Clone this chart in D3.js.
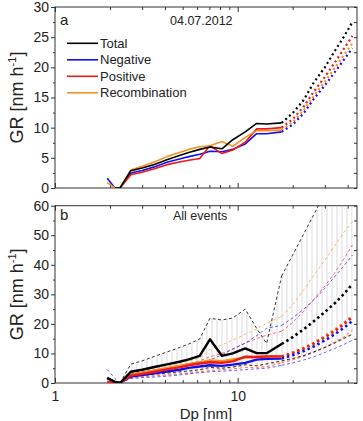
<!DOCTYPE html>
<html>
<head>
<meta charset="utf-8">
<script src="https://cdn.jsdelivr.net/npm/d3@7"></script>
<style>
  body { margin: 0; background: #fff; }
  text { font-family: "Liberation Sans", Arial, sans-serif; fill: #222; }
  .axis path { display: none; }
  .axis line { stroke: #333; }
</style>
</head>
<body>
<div id="chart"></div>
<script>
// particle diameter grid (nm) for measured part and the extrapolated part
var dp = [1.93, 2.13, 2.27, 2.6, 3.0, 3.5, 4.1, 4.8, 5.4, 6.2, 7.05, 8.2, 9.4, 11, 12.7, 14.4, 17.4];
var dpExt = [17.4, 20, 23, 26, 30, 34, 38, 42.5];

// panel a: 04.07.2012
var totalA = [null, 0, 0, 2.87, 3.3, 3.9, 4.7, 5.4, 5.9, 6.4, 6.8, 6.5, 8.0, 9.3, 10.7, 10.6, 10.8];
var negA   = [1.6, 0, 0, 2.5, 2.9, 3.5, 4.26, 4.8, 5.2, 5.6, 6.1, 6.0, 6.4, 7.3, 9.0, 9.0, 9.3];
var posA   = [null, 0, 0, 2.2, 2.6, 3.2, 3.87, 4.3, 4.6, 4.9, 7.0, 5.7, 6.3, 7.6, 9.8, 9.8, 10.0];
var recA   = [0.9, 0, 0, 3.0, 3.6, 4.3, 5.2, 5.9, 6.4, 6.85, 7.0, 7.7, 6.9, 8.4, 9.5, 9.5, 9.6];
var totalExtA = [10.8, 12.4, 14.6, 17.4, 20.0, 22.7, 25.0, 27.5];
var negExtA   = [9.3, 10.5, 12.4, 14.7, 17.0, 19.2, 21.2, 23.2];
var posExtA   = [10.0, 11.4, 13.5, 15.9, 18.4, 20.8, 23.0, 25.2];
var recExtA   = [9.6, 10.9, 12.9, 15.2, 17.6, 19.9, 22.0, 24.0];

// panel b: all events, median
var totalB = [1.6, 0.4, 0, 3.8, 4.5, 5.4, 6.3, 7.2, 8.0, 9.2, 14.8, 9.2, 10.0, 11.7, 10.1, 10.1, 13.2];
var negB   = [1.8, 0.3, 0, 2.2, 2.7, 3.3, 3.9, 4.5, 5.1, 5.6, 6.0, 5.8, 6.2, 6.8, 7.9, 8.2, 8.3];
var posB   = [0.3, 0, 0, 2.5, 3.1, 3.8, 4.6, 5.3, 6.0, 6.6, 7.0, 6.8, 7.3, 8.9, 8.8, 9.0, 9.0];
var recB   = [0.5, 0, 0, 2.8, 3.4, 4.2, 5.0, 5.8, 6.4, 7.0, 7.6, 7.4, 8.0, 8.6, 8.8, 8.9, 8.9];
var totalExtB = [13.2, 15.5, 18.2, 20.8, 24.0, 27.0, 30.0, 33.5];
var negExtB   = [8.3, 9.4, 10.8, 12.3, 14.4, 16.5, 18.6, 21.0];
var posExtB   = [9.0, 10.2, 11.7, 13.3, 15.5, 17.6, 19.8, 22.3];
var recExtB   = [8.9, 10.2, 11.8, 13.5, 15.8, 18.0, 20.2, 22.7];

// panel b: upper / lower percentiles
var totalHi = [null, null, 0, 6.4, 7.5, 9.0, 10.5, 12.0, 13.2, 14.9, 21.9, 21.3, 22.0, 25.0, 18.5, 13.4, 36.2];
var totalLo = [null, null, 0, 2.3, 2.6, 3.0, 3.4, 3.8, 4.1, 4.5, 5.3, 5.0, 5.4, 6.2, 5.8, 6.5, 7.5];
var totalHiExt = [36.2, 43.3, 50.5, 56.8, 64, 70, 76, 82];
var totalLoExt = [7.5, 8.3, 9.3, 10.5, 12.0, 13.5, 15.0, 16.5];
var negHi = [4.6, 1.5, 0, 3.0, 3.6, 4.2, 4.9, 5.6, 6.3, 7.0, 7.8, 9.5, 11.5, 13.5, 16.0, 18.5, 19.5];
var negLo = [null, null, 0, 1.5, 1.8, 2.0, 2.3, 2.7, 3.1, 3.5, 3.8, 4.0, 4.2, 4.5, 4.8, 5.0, 6.0];
var negHiExt = [19.5, 22.0, 25.0, 28.0, 32.0, 36.0, 39.5, 43.3];
var negLoExt = [6.0, 6.8, 7.8, 8.8, 10.3, 11.7, 13.0, 14.5];
var posHi = [0.5, 0, 0, 3.2, 3.8, 4.5, 5.2, 5.9, 6.6, 7.5, 8.9, 10.0, 11.5, 13.5, 15.0, 16.2, 17.5];
var posLo = [null, null, 0, 1.8, 2.1, 2.4, 2.7, 3.1, 3.4, 3.8, 4.2, 4.5, 4.8, 5.2, 5.3, 5.5, 6.8];
var posHiExt = [17.5, 20.5, 24.3, 28.2, 32.8, 37.3, 41.8, 46.7];
var posLoExt = [6.8, 7.8, 9.0, 10.3, 12.0, 13.8, 15.5, 17.9];
var recHi = [0.5, 0, 0, 3.5, 4.1, 4.9, 5.7, 6.6, 7.4, 8.5, 11.4, 12.9, 14.5, 16.5, 18.3, 20.2, 22.5];
var recLo = [null, null, 0, 2.0, 2.3, 2.7, 3.1, 3.5, 3.9, 4.3, 4.8, 5.1, 5.4, 5.8, 6.0, 6.2, 7.2];
var recHiExt = [22.5, 26.5, 31.5, 36.3, 41.5, 46.5, 50.8, 54.6];
var recLoExt = [7.2, 8.1, 9.3, 10.5, 12.2, 13.9, 15.3, 16.6];

var legendNames = ['Total', 'Negative', 'Positive', 'Recombination'];
var colors = ['#000000', '#1010ee', '#f01818', '#f7901e'];
var xMajor = [1, 10], xMinor = [2, 3, 4, 5, 6, 7, 8, 9, 20, 30, 40];

var w = 363, h = 421;
var svg = d3.select('#chart').append('svg').attr('width', w).attr('height', h);

var x = d3.scaleLog().domain([1, 45]).range([55, 357]);
var yA = d3.scaleLinear().domain([0, 30]).range([188, 7]);
var yB = d3.scaleLinear().domain([0, 60]).range([383, 205.7]);

// hatch for the total range
var defs = svg.append('defs');
var pat = defs.append('pattern').attr('id', 'hatch').attr('patternUnits', 'userSpaceOnUse')
  .attr('width', 5).attr('height', 10);
pat.append('line').attr('x1', 2).attr('x2', 2).attr('y1', 0).attr('y2', 10)
  .attr('stroke', '#cacad6').attr('stroke-width', 0.7);

function frame(y, yMajor, yMinor, id, showX) {
  var x0 = x.range()[0], x1 = x.range()[1], y0 = y.range()[1], y1 = y.range()[0];
  defs.append('clipPath').attr('id', id).append('rect')
    .attr('x', x0).attr('y', y0).attr('width', x1 - x0).attr('height', y1 - y0);

  svg.append('g').attr('class', 'axis').attr('transform', 'translate(' + x0 + ',0)')
    .call(d3.axisLeft(y).tickValues(yMajor).tickSize(4).tickPadding(2))
    .selectAll('text').style('font-size', '14px');
  svg.append('g').attr('class', 'axis').attr('transform', 'translate(' + x0 + ',0)')
    .call(d3.axisLeft(y).tickValues(yMinor).tickSize(2).tickFormat(''));
  svg.append('g').attr('class', 'axis').attr('transform', 'translate(' + x1 + ',0)')
    .call(d3.axisRight(y).tickValues(yMajor.concat(yMinor)).tickSize(-3).tickFormat(''));

  var bot = svg.append('g').attr('class', 'axis').attr('transform', 'translate(0,' + y1 + ')');
  bot.call(d3.axisBottom(x).tickValues(xMajor).tickSize(-5).tickPadding(8)
    .tickFormat(showX ? d3.format('d') : ''));
  bot.selectAll('text').style('font-size', '14px');
  svg.append('g').attr('class', 'axis').attr('transform', 'translate(0,' + y1 + ')')
    .call(d3.axisBottom(x).tickValues(xMinor).tickSize(-3).tickFormat(''));
  svg.append('g').attr('class', 'axis').attr('transform', 'translate(0,' + y0 + ')')
    .call(d3.axisTop(x).tickValues(xMajor).tickSize(-5).tickFormat(''));
  svg.append('g').attr('class', 'axis').attr('transform', 'translate(0,' + y0 + ')')
    .call(d3.axisTop(x).tickValues(xMinor).tickSize(-3).tickFormat(''));

  svg.append('rect').attr('x', x0).attr('y', y0).attr('width', x1 - x0).attr('height', y1 - y0)
    .attr('fill', 'none').attr('stroke', '#333').attr('stroke-width', 1);

  var lab = svg.append('text').attr('text-anchor', 'middle').style('font-size', '18px')
    .attr('transform', 'translate(23,' + ((y0 + y1) / 2) + ') rotate(-90)');
  lab.append('tspan').text('GR [nm h');
  lab.append('tspan').attr('dy', -7).style('font-size', '11px').text('-1');
  lab.append('tspan').attr('dy', 7).text(']');

  return svg.append('g').attr('clip-path', 'url(#' + id + ')');
}

function pts(xs, ys) {
  return xs.map(function(d, i) { return [d, ys[i]]; });
}

function draw(g, y, xs, ys, color, width, dash, opacity) {
  var line = d3.line()
    .defined(function(d) { return d[1] !== null; })
    .x(function(d) { return x(d[0]); })
    .y(function(d) { return y(d[1]); });
  g.append('path').datum(pts(xs, ys))
    .attr('d', line)
    .attr('fill', 'none')
    .attr('stroke', color)
    .attr('stroke-width', width)
    .attr('stroke-dasharray', dash || null)
    .attr('stroke-opacity', opacity || 1)
    .attr('stroke-linejoin', 'round');
}

// ----- panel a -----
var gA = frame(yA, [0, 5, 10, 15, 20, 25, 30], [2.5, 7.5, 12.5, 17.5, 22.5, 27.5], 'clipA', false);
var seriesA = [totalA, negA, posA, recA];
var extA = [totalExtA, negExtA, posExtA, recExtA];
[3, 2, 1, 0].forEach(function(i) {
  draw(gA, yA, dpExt, extA[i], colors[i], 2.2, '2,3');
});
[1, 2, 3, 0].forEach(function(i) {
  draw(gA, yA, dp, seriesA[i], colors[i], 1.6);
});

svg.append('text').attr('x', 60).attr('y', 25).style('font-size', '15px').text('a');
svg.append('text').attr('x', 170).attr('y', 25).style('font-size', '12.5px').text('04.07.2012');

var leg = svg.selectAll('.leg').data(legendNames).enter().append('g')
  .attr('transform', function(d, i) { return 'translate(67,' + (43.3 + i * 16.5) + ')'; });
leg.append('line').attr('x1', 0).attr('x2', 31).attr('y1', 0).attr('y2', 0)
  .attr('stroke', function(d, i) { return colors[i]; }).attr('stroke-width', 1.6);
leg.append('text').attr('x', 33).attr('dy', '0.35em').style('font-size', '13px')
  .text(function(d) { return d; });

// ----- panel b -----
var gB = frame(yB, [0, 10, 20, 30, 40, 50, 60], [5, 15, 25, 35, 45, 55], 'clipB', true);

var band = d3.area()
  .defined(function(d) { return d[1] !== null; })
  .x(function(d) { return x(d[0]); })
  .y0(function(d) { return yB(d[2]); })
  .y1(function(d) { return yB(d[1]); });
var bandData = dp.map(function(d, i) { return [d, totalHi[i], totalLo[i]]; })
  .concat(dpExt.slice(1).map(function(d, i) { return [d, totalHiExt[i + 1], totalLoExt[i + 1]]; }));
gB.append('path').datum(bandData).attr('d', band).attr('fill', 'url(#hatch)');

var hiB = [totalHi, negHi, posHi, recHi], loB = [totalLo, negLo, posLo, recLo];
var hiExtB = [totalHiExt, negHiExt, posHiExt, recHiExt], loExtB = [totalLoExt, negLoExt, posLoExt, recLoExt];
[3, 2, 1, 0].forEach(function(i) {
  var op = i === 0 ? 0.8 : 0.65;
  draw(gB, yB, dp, hiB[i], colors[i], 1, '3,2.5', op);
  draw(gB, yB, dp, loB[i], colors[i], 1, '3,2.5', op);
  draw(gB, yB, dpExt, hiExtB[i], colors[i], 1, '3,2.5', op);
  draw(gB, yB, dpExt, loExtB[i], colors[i], 1, '3,2.5', op);
});

var seriesB = [totalB, negB, posB, recB];
var extB = [totalExtB, negExtB, posExtB, recExtB];
[3, 2, 1, 0].forEach(function(i) {
  draw(gB, yB, dpExt, extB[i], colors[i], 2.6, '2.5,3');
});
[1, 3, 2, 0].forEach(function(i) {
  draw(gB, yB, dp, seriesB[i], colors[i], 2.4);
});

svg.append('text').attr('x', 60).attr('y', 220).style('font-size', '15px').text('b');
svg.append('text').attr('x', 173).attr('y', 220).style('font-size', '12.5px').text('All events');

svg.append('text').attr('x', 206).attr('y', 419).attr('text-anchor', 'middle')
  .style('font-size', '15px').text('Dp [nm]');
</script>
</body>
</html>
